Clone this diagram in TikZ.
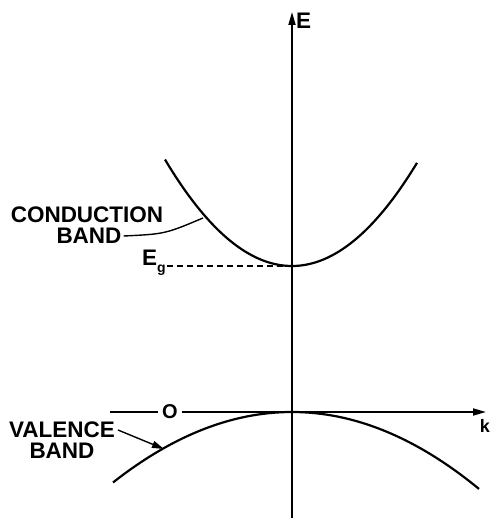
\documentclass[tikz,border=0pt]{standalone}
\usepackage{fontspec}
\setmainfont{Liberation Sans}
\usetikzlibrary{arrows.meta}
\begin{document}
\begin{tikzpicture}[x=1pt,y=-1pt,
  lbl/.style={font=\fontsize{22.5}{22.5}\selectfont\bfseries, inner sep=0pt},
  axisline/.style={line width=1.8pt},
  bandline/.style={line width=2.2pt},
  leader/.style={line width=1.4pt},
  tip/.style={-{Triangle[length=13pt,width=7pt]}}]
\useasboundingbox (0,0) rectangle (490,518);
% vertical axis
\coordinate (yb) at (292,518);
\coordinate (yt) at (292,12);
\draw[axisline,tip] (yb) -- (yt);
\node[lbl, anchor=west] (E) at (296,21) {E};
% horizontal axis
\coordinate (xl) at (110,412);
\coordinate (xr) at (486,412);
\node[lbl, font=\fontsize{20}{20}\selectfont\bfseries, inner xsep=4pt] (O) at (170,412) {O};
\draw[axisline] (xl) -- (O.west);
\draw[axisline,tip] (O.east) -- (xr);
\node[lbl, anchor=east, font=\fontsize{18}{18}\selectfont\bfseries] (k) at (490,426) {k};
% conduction band
\draw[bandline] plot[domain=-127:125,samples=80] ({292+\x},{266-0.66*(\x/10)*(\x/10)});
\coordinate (vc) at (292,266);
\node[lbl] (Eg) at (154,263) {E\raisebox{-7pt}{\fontsize{14}{14}\selectfont g}};
\coordinate (egs) at (167,266);
\draw[line width=1.3pt, dash pattern=on 6pt off 4pt] (egs) -- (vc);
\node[lbl] (cond1) at (87,215) {CONDUCTION};
\node[lbl] (cond2) at (89,236) {BAND};
\coordinate (cbp) at (203,218);
\draw[leader] (cond2.east) ++(2,0) coordinate (cbs) .. controls (165,234) .. (cbp);
% valence band
\draw[bandline] plot[domain=-179:187,samples=80] ({292+\x},{412+0.22*(\x/10)*(\x/10)});
\node[lbl] (val1) at (62,430) {VALENCE};
\node[lbl] (val2) at (62,451) {BAND};
\coordinate (vas) at (118,430);
\coordinate (vae) at (164,449);
\draw[leader,-{Triangle[length=12pt,width=7pt]}] (vas) -- (vae);
\end{tikzpicture}
\end{document}
